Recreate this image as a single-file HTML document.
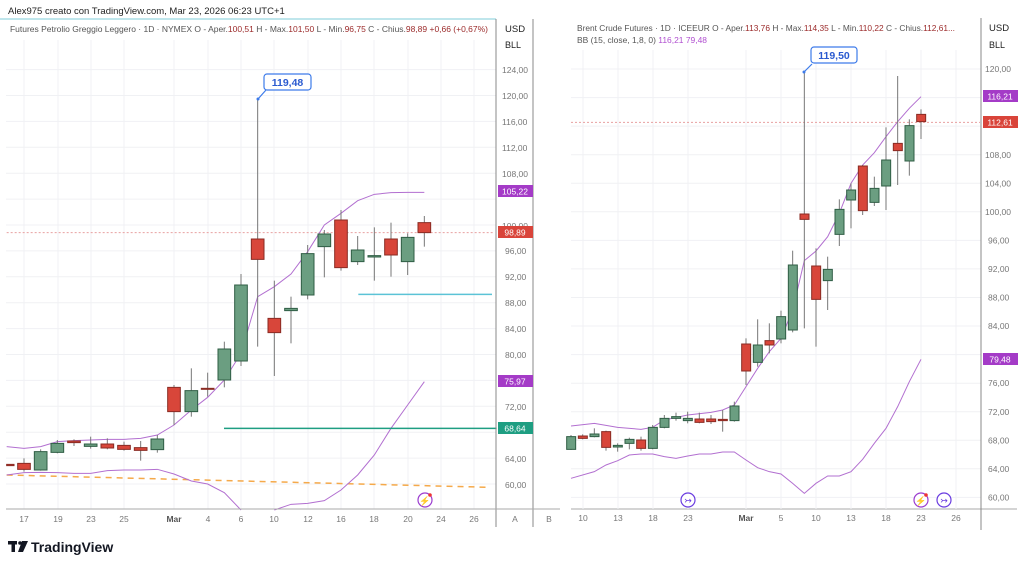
<!DOCTYPE html>
<html><head><meta charset="utf-8"><style>
html,body{margin:0;padding:0;background:#fff;}
svg{display:block;font-family:"Liberation Sans",sans-serif;}
</style></head><body>
<svg width="1024" height="567" viewBox="0 0 1024 567" xmlns="http://www.w3.org/2000/svg">
<rect width="1024" height="567" fill="#fff"/>
<text x="8" y="14" font-size="9.5" fill="#222">Alex975 creato con TradingView.com, Mar 23, 2026 06:23 UTC+1</text>
<line x1="0" y1="19" x2="496" y2="19" stroke="#bfe6ec" stroke-width="2"/>

<!-- LEFT GRID -->
<g stroke="#f0f1f4" stroke-width="1">
<line x1="6" y1="69.6" x2="496" y2="69.6"/><line x1="6" y1="95.5" x2="496" y2="95.5"/><line x1="6" y1="121.4" x2="496" y2="121.4"/><line x1="6" y1="147.3" x2="496" y2="147.3"/><line x1="6" y1="173.2" x2="496" y2="173.2"/><line x1="6" y1="199.1" x2="496" y2="199.1"/><line x1="6" y1="225" x2="496" y2="225"/><line x1="6" y1="250.9" x2="496" y2="250.9"/><line x1="6" y1="276.8" x2="496" y2="276.8"/><line x1="6" y1="302.7" x2="496" y2="302.7"/><line x1="6" y1="328.6" x2="496" y2="328.6"/><line x1="6" y1="354.5" x2="496" y2="354.5"/><line x1="6" y1="380.4" x2="496" y2="380.4"/><line x1="6" y1="406.3" x2="496" y2="406.3"/><line x1="6" y1="432.2" x2="496" y2="432.2"/><line x1="6" y1="458.1" x2="496" y2="458.1"/><line x1="6" y1="484" x2="496" y2="484"/>
<line x1="24" y1="40" x2="24" y2="509"/><line x1="58" y1="40" x2="58" y2="509"/><line x1="91" y1="40" x2="91" y2="509"/><line x1="124" y1="40" x2="124" y2="509"/><line x1="174" y1="40" x2="174" y2="509"/><line x1="208" y1="40" x2="208" y2="509"/><line x1="241" y1="40" x2="241" y2="509"/><line x1="274" y1="40" x2="274" y2="509"/><line x1="308" y1="40" x2="308" y2="509"/><line x1="341" y1="40" x2="341" y2="509"/><line x1="374" y1="40" x2="374" y2="509"/><line x1="408" y1="40" x2="408" y2="509"/><line x1="441" y1="40" x2="441" y2="509"/><line x1="474" y1="40" x2="474" y2="509"/>
</g>
<text x="10" y="32" font-size="8.6" fill="#555" textLength="478" lengthAdjust="spacingAndGlyphs">Futures Petrolio Greggio Leggero · 1D · NYMEX  O - Aper.<tspan fill="#9b2a2a">100,51</tspan>  H - Max.<tspan fill="#9b2a2a">101,50</tspan>  L - Min.<tspan fill="#9b2a2a">96,75</tspan>  C - Chius.<tspan fill="#9b2a2a">98,89</tspan>  <tspan fill="#9b2a2a">+0,66 (+0,67%)</tspan></text>

<!-- left chart lines in zoom coords -->
<g transform="translate(0,180) scale(0.33333)" fill="none">
<line x1="20" y1="158" x2="1480" y2="158" stroke="#e8a0a0" stroke-width="1" stroke-dasharray="2,2" vector-effect="non-scaling-stroke"/>
<line x1="20" y1="885" x2="1470" y2="922" stroke="#f5a94a" stroke-width="1.5" stroke-dasharray="6,5" vector-effect="non-scaling-stroke"/>
<polyline stroke="#b26fd0" stroke-width="1" vector-effect="non-scaling-stroke" points="20,800 72,805 122,800 172,785 222,782 272,780 322,778 372,778 422,775 472,765 522,735 574,690 623,652 673,600 723,520 773,350 823,320 873,282 923,215 973,135 1023,100 1073,62 1123,43 1173,38 1223,37 1273,37"/>
<polyline stroke="#b26fd0" stroke-width="1" vector-effect="non-scaling-stroke" points="20,885 72,878 122,877 172,878 222,880 272,880 322,872 372,870 422,870 472,868 522,882 574,903 623,912 673,938 723,990"/>
<polyline stroke="#b26fd0" stroke-width="1" vector-effect="non-scaling-stroke" points="823,990 873,973 923,970 973,962 1023,930 1073,885 1123,825 1173,745 1223,675 1273,605"/>
<line x1="1075" y1="343" x2="1476" y2="343" stroke="#5bc3d6" stroke-width="1.5" vector-effect="non-scaling-stroke"/>
<line x1="672" y1="745" x2="1490" y2="745" stroke="#1e9e82" stroke-width="1.5" vector-effect="non-scaling-stroke"/>
<g stroke="#777" stroke-width="1">
<line x1="72" y1="835" x2="72" y2="875" vector-effect="non-scaling-stroke"/>
<line x1="122" y1="808" x2="122" y2="872" vector-effect="non-scaling-stroke"/>
<line x1="172" y1="780" x2="172" y2="820" vector-effect="non-scaling-stroke"/>
<line x1="222" y1="778" x2="222" y2="798" vector-effect="non-scaling-stroke"/>
<line x1="272" y1="770" x2="272" y2="806" vector-effect="non-scaling-stroke"/>
<line x1="322" y1="775" x2="322" y2="808" vector-effect="non-scaling-stroke"/>
<line x1="372" y1="785" x2="372" y2="812" vector-effect="non-scaling-stroke"/>
<line x1="422" y1="783" x2="422" y2="842" vector-effect="non-scaling-stroke"/>
<line x1="472" y1="765" x2="472" y2="818" vector-effect="non-scaling-stroke"/>
<line x1="522" y1="615" x2="522" y2="735" vector-effect="non-scaling-stroke"/>
<line x1="574" y1="565" x2="574" y2="710" vector-effect="non-scaling-stroke"/>
<line x1="623" y1="578" x2="623" y2="650" vector-effect="non-scaling-stroke"/>
<line x1="673" y1="485" x2="673" y2="622" vector-effect="non-scaling-stroke"/>
<line x1="723" y1="282" x2="723" y2="558" vector-effect="non-scaling-stroke"/>
<line x1="773" y1="-240" x2="773" y2="500" vector-effect="non-scaling-stroke"/>
<line x1="823" y1="302" x2="823" y2="588" vector-effect="non-scaling-stroke"/>
<line x1="873" y1="350" x2="873" y2="490" vector-effect="non-scaling-stroke"/>
<line x1="923" y1="195" x2="923" y2="358" vector-effect="non-scaling-stroke"/>
<line x1="973" y1="150" x2="973" y2="292" vector-effect="non-scaling-stroke"/>
<line x1="1023" y1="90" x2="1023" y2="272" vector-effect="non-scaling-stroke"/>
<line x1="1073" y1="168" x2="1073" y2="255" vector-effect="non-scaling-stroke"/>
<line x1="1123" y1="142" x2="1123" y2="302" vector-effect="non-scaling-stroke"/>
<line x1="1173" y1="128" x2="1173" y2="290" vector-effect="non-scaling-stroke"/>
<line x1="1223" y1="160" x2="1223" y2="285" vector-effect="non-scaling-stroke"/>
<line x1="1273" y1="108" x2="1273" y2="200" vector-effect="non-scaling-stroke"/>
</g>
<g stroke-width="1">
<rect x="20" y="853" width="22" height="4" fill="#d8463a" stroke="#8a2b23" vector-effect="non-scaling-stroke"/>
<rect x="53" y="850" width="38" height="18" fill="#d8463a" stroke="#8a2b23" vector-effect="non-scaling-stroke"/>
<rect x="103" y="815" width="38" height="55" fill="#6b9e81" stroke="#2f5d44" vector-effect="non-scaling-stroke"/>
<rect x="153" y="790" width="38" height="27" fill="#6b9e81" stroke="#2f5d44" vector-effect="non-scaling-stroke"/>
<rect x="203" y="783" width="38" height="5" fill="#d8463a" stroke="#8a2b23" vector-effect="non-scaling-stroke"/>
<rect x="253" y="792" width="38" height="7" fill="#6b9e81" stroke="#2f5d44" vector-effect="non-scaling-stroke"/>
<rect x="303" y="792" width="38" height="12" fill="#d8463a" stroke="#8a2b23" vector-effect="non-scaling-stroke"/>
<rect x="353" y="796" width="38" height="12" fill="#d8463a" stroke="#8a2b23" vector-effect="non-scaling-stroke"/>
<rect x="403" y="803" width="38" height="8" fill="#d8463a" stroke="#8a2b23" vector-effect="non-scaling-stroke"/>
<rect x="453" y="777" width="38" height="32" fill="#6b9e81" stroke="#2f5d44" vector-effect="non-scaling-stroke"/>
<rect x="503" y="622" width="38" height="73" fill="#d8463a" stroke="#8a2b23" vector-effect="non-scaling-stroke"/>
<rect x="555" y="632" width="38" height="63" fill="#6b9e81" stroke="#2f5d44" vector-effect="non-scaling-stroke"/>
<rect x="604" y="625" width="38" height="3" fill="#b06060" stroke="#8a2b23" vector-effect="non-scaling-stroke"/>
<rect x="654" y="507" width="38" height="93" fill="#6b9e81" stroke="#2f5d44" vector-effect="non-scaling-stroke"/>
<rect x="704" y="315" width="38" height="228" fill="#6b9e81" stroke="#2f5d44" vector-effect="non-scaling-stroke"/>
<rect x="754" y="177" width="38" height="61" fill="#d8463a" stroke="#8a2b23" vector-effect="non-scaling-stroke"/>
<rect x="804" y="415" width="38" height="43" fill="#d8463a" stroke="#8a2b23" vector-effect="non-scaling-stroke"/>
<rect x="854" y="385" width="38" height="7" fill="#6b9e81" stroke="#2f5d44" vector-effect="non-scaling-stroke"/>
<rect x="904" y="221" width="38" height="124" fill="#6b9e81" stroke="#2f5d44" vector-effect="non-scaling-stroke"/>
<rect x="954" y="162" width="38" height="38" fill="#6b9e81" stroke="#2f5d44" vector-effect="non-scaling-stroke"/>
<rect x="1004" y="120" width="38" height="143" fill="#d8463a" stroke="#8a2b23" vector-effect="non-scaling-stroke"/>
<rect x="1054" y="210" width="38" height="35" fill="#6b9e81" stroke="#2f5d44" vector-effect="non-scaling-stroke"/>
<rect x="1104" y="227" width="38" height="4" fill="#6b9e81" stroke="#2f5d44" vector-effect="non-scaling-stroke"/>
<rect x="1154" y="177" width="38" height="48" fill="#d8463a" stroke="#8a2b23" vector-effect="non-scaling-stroke"/>
<rect x="1204" y="172" width="38" height="73" fill="#6b9e81" stroke="#2f5d44" vector-effect="non-scaling-stroke"/>
<rect x="1254" y="128" width="38" height="30" fill="#d8463a" stroke="#8a2b23" vector-effect="non-scaling-stroke"/>
</g>
</g>
<!-- left label -->
<line x1="258" y1="99" x2="266" y2="90" stroke="#3d7bea" stroke-width="1.2"/>
<circle cx="258" cy="99" r="1.5" fill="#3d7bea"/>
<rect x="264" y="74" width="47" height="16" rx="3" fill="#fff" stroke="#3d7bea" stroke-width="1.2"/>
<text x="287.5" y="86" font-size="10.5" font-weight="bold" fill="#2a5ad0" text-anchor="middle">119,48</text>
<circle cx="425" cy="500" r="7" fill="#fff" stroke="#9b3ccf" stroke-width="1.2"/>
<text x="425" y="504" font-size="9" fill="#9b3ccf" text-anchor="middle">⚡</text>
<circle cx="430" cy="495" r="1.8" fill="#e33"/>

<!-- left axes -->
<line x1="496" y1="19" x2="496" y2="527" stroke="#888" stroke-width="1"/>
<line x1="533" y1="19" x2="533" y2="527" stroke="#888" stroke-width="1"/>
<line x1="6" y1="509" x2="496" y2="509" stroke="#aaa" stroke-width="1"/>
<line x1="496" y1="509" x2="560" y2="509" stroke="#aaa" stroke-width="1"/>
<line x1="571" y1="509" x2="1017" y2="509" stroke="#aaa" stroke-width="1"/>
<text x="505" y="32" font-size="9.5" fill="#222">USD</text>
<text x="505" y="48" font-size="9" fill="#222">BLL</text>
<g font-size="8.5" fill="#777">
<text x="502" y="73">124,00</text><text x="502" y="99">120,00</text><text x="502" y="125">116,00</text><text x="502" y="151">112,00</text><text x="502" y="177">108,00</text><text x="502" y="229">100,00</text><text x="505" y="254">96,00</text><text x="505" y="280">92,00</text><text x="505" y="306">88,00</text><text x="505" y="332">84,00</text><text x="505" y="358">80,00</text><text x="505" y="410">72,00</text><text x="505" y="462">64,00</text><text x="505" y="488">60,00</text>
</g>
<rect x="498" y="185" width="35" height="12" fill="#a43bc7"/><text x="515" y="194.5" font-size="8.5" fill="#fff" text-anchor="middle">105,22</text>
<rect x="498" y="226" width="35" height="12" fill="#d9443a"/><text x="515" y="235.5" font-size="8.5" fill="#fff" text-anchor="middle">98,89</text>
<rect x="498" y="375" width="35" height="12" fill="#a43bc7"/><text x="515" y="384.5" font-size="8.5" fill="#fff" text-anchor="middle">75,97</text>
<rect x="498" y="422" width="35" height="12" fill="#1e9e82"/><text x="515" y="431.5" font-size="8.5" fill="#fff" text-anchor="middle">68,64</text>
<g font-size="8.5" fill="#777" text-anchor="middle">
<text x="24" y="522">17</text><text x="58" y="522">19</text><text x="91" y="522">23</text><text x="124" y="522">25</text><text x="174" y="522" fill="#555" font-weight="bold">Mar</text><text x="208" y="522">4</text><text x="241" y="522">6</text><text x="274" y="522">10</text><text x="308" y="522">12</text><text x="341" y="522">16</text><text x="374" y="522">18</text><text x="408" y="522">20</text><text x="441" y="522">24</text><text x="474" y="522">26</text><text x="515" y="522">A</text><text x="549" y="522">B</text>
</g>

<!-- RIGHT GRID -->
<g stroke="#f0f1f4" stroke-width="1">
<line x1="571" y1="69" x2="981" y2="69"/><line x1="571" y1="97.6" x2="981" y2="97.6"/><line x1="571" y1="126.1" x2="981" y2="126.1"/><line x1="571" y1="154.7" x2="981" y2="154.7"/><line x1="571" y1="183.2" x2="981" y2="183.2"/><line x1="571" y1="211.8" x2="981" y2="211.8"/><line x1="571" y1="240.4" x2="981" y2="240.4"/><line x1="571" y1="268.9" x2="981" y2="268.9"/><line x1="571" y1="297.5" x2="981" y2="297.5"/><line x1="571" y1="326" x2="981" y2="326"/><line x1="571" y1="354.6" x2="981" y2="354.6"/><line x1="571" y1="383.2" x2="981" y2="383.2"/><line x1="571" y1="411.7" x2="981" y2="411.7"/><line x1="571" y1="440.3" x2="981" y2="440.3"/><line x1="571" y1="468.8" x2="981" y2="468.8"/><line x1="571" y1="497.4" x2="981" y2="497.4"/>
<line x1="583" y1="50" x2="583" y2="509"/><line x1="618" y1="50" x2="618" y2="509"/><line x1="653" y1="50" x2="653" y2="509"/><line x1="688" y1="50" x2="688" y2="509"/><line x1="746" y1="50" x2="746" y2="509"/><line x1="781" y1="50" x2="781" y2="509"/><line x1="816" y1="50" x2="816" y2="509"/><line x1="851" y1="50" x2="851" y2="509"/><line x1="886" y1="50" x2="886" y2="509"/><line x1="921" y1="50" x2="921" y2="509"/><line x1="956" y1="50" x2="956" y2="509"/>
</g>
<text x="577" y="31" font-size="8.6" fill="#555" textLength="378" lengthAdjust="spacingAndGlyphs">Brent Crude Futures · 1D · ICEEUR  O - Aper.<tspan fill="#9b2a2a">113,76</tspan>  H - Max.<tspan fill="#9b2a2a">114,35</tspan>  L - Min.<tspan fill="#9b2a2a">110,22</tspan>  C - Chius.<tspan fill="#9b2a2a">112,61...</tspan></text>
<text x="577" y="43" font-size="8.6" fill="#555" textLength="130" lengthAdjust="spacingAndGlyphs">BB (15, close, 1,8, 0)  <tspan fill="#b04fd0">116,21  79,48</tspan></text>

<g transform="translate(560,40) scale(0.33333)" fill="none">
<line x1="33" y1="247" x2="1260" y2="247" stroke="#e8a0a0" stroke-width="1" stroke-dasharray="2,2" vector-effect="non-scaling-stroke"/>
<polyline stroke="#b26fd0" stroke-width="1" vector-effect="non-scaling-stroke" points="33,1158 103,1150 173,1162 243,1168 278,1162 313,1140 383,1125 453,1117 488,1110 523,1095 558,1040 593,985 628,935 663,895 698,810 733,662 768,633 803,590 838,520 873,430 908,375 943,338 978,290 1013,245 1048,205 1083,170"/>
<polyline stroke="#b26fd0" stroke-width="1" vector-effect="non-scaling-stroke" points="33,1315 103,1295 138,1275 173,1262 208,1245 243,1242 278,1242 313,1250 348,1255 383,1248 418,1242 453,1242 488,1236 523,1236 558,1260 593,1283 628,1295 663,1302 698,1330 733,1360 768,1330 803,1308 838,1308 873,1295 908,1258 943,1210 978,1165 1013,1100 1048,1025 1083,958"/>
<g stroke="#777" stroke-width="1">
<line x1="33" y1="1185" x2="33" y2="1230" vector-effect="non-scaling-stroke"/>
<line x1="68" y1="1183" x2="68" y2="1198" vector-effect="non-scaling-stroke"/>
<line x1="103" y1="1165" x2="103" y2="1192" vector-effect="non-scaling-stroke"/>
<line x1="138" y1="1172" x2="138" y2="1232" vector-effect="non-scaling-stroke"/>
<line x1="173" y1="1210" x2="173" y2="1235" vector-effect="non-scaling-stroke"/>
<line x1="208" y1="1193" x2="208" y2="1228" vector-effect="non-scaling-stroke"/>
<line x1="243" y1="1190" x2="243" y2="1232" vector-effect="non-scaling-stroke"/>
<line x1="278" y1="1155" x2="278" y2="1228" vector-effect="non-scaling-stroke"/>
<line x1="313" y1="1125" x2="313" y2="1165" vector-effect="non-scaling-stroke"/>
<line x1="348" y1="1118" x2="348" y2="1142" vector-effect="non-scaling-stroke"/>
<line x1="383" y1="1115" x2="383" y2="1150" vector-effect="non-scaling-stroke"/>
<line x1="418" y1="1118" x2="418" y2="1150" vector-effect="non-scaling-stroke"/>
<line x1="453" y1="1125" x2="453" y2="1152" vector-effect="non-scaling-stroke"/>
<line x1="488" y1="1110" x2="488" y2="1175" vector-effect="non-scaling-stroke"/>
<line x1="523" y1="1085" x2="523" y2="1145" vector-effect="non-scaling-stroke"/>
<line x1="558" y1="895" x2="558" y2="1035" vector-effect="non-scaling-stroke"/>
<line x1="593" y1="838" x2="593" y2="980" vector-effect="non-scaling-stroke"/>
<line x1="628" y1="850" x2="628" y2="940" vector-effect="non-scaling-stroke"/>
<line x1="663" y1="812" x2="663" y2="910" vector-effect="non-scaling-stroke"/>
<line x1="698" y1="632" x2="698" y2="877" vector-effect="non-scaling-stroke"/>
<line x1="733" y1="97" x2="733" y2="865" vector-effect="non-scaling-stroke"/>
<line x1="768" y1="625" x2="768" y2="920" vector-effect="non-scaling-stroke"/>
<line x1="803" y1="650" x2="803" y2="810" vector-effect="non-scaling-stroke"/>
<line x1="838" y1="478" x2="838" y2="618" vector-effect="non-scaling-stroke"/>
<line x1="873" y1="430" x2="873" y2="565" vector-effect="non-scaling-stroke"/>
<line x1="908" y1="375" x2="908" y2="525" vector-effect="non-scaling-stroke"/>
<line x1="943" y1="410" x2="943" y2="498" vector-effect="non-scaling-stroke"/>
<line x1="978" y1="262" x2="978" y2="510" vector-effect="non-scaling-stroke"/>
<line x1="1013" y1="108" x2="1013" y2="435" vector-effect="non-scaling-stroke"/>
<line x1="1048" y1="238" x2="1048" y2="407" vector-effect="non-scaling-stroke"/>
<line x1="1083" y1="208" x2="1083" y2="297" vector-effect="non-scaling-stroke"/>
</g>
<g stroke-width="1">
<rect x="20" y="1190" width="27" height="38" fill="#6b9e81" stroke="#2f5d44" vector-effect="non-scaling-stroke"/>
<rect x="55" y="1188" width="27" height="7" fill="#d8463a" stroke="#8a2b23" vector-effect="non-scaling-stroke"/>
<rect x="90" y="1182" width="27" height="8" fill="#6b9e81" stroke="#2f5d44" vector-effect="non-scaling-stroke"/>
<rect x="125" y="1175" width="27" height="47" fill="#d8463a" stroke="#8a2b23" vector-effect="non-scaling-stroke"/>
<rect x="160" y="1216" width="27" height="5" fill="#6b9e81" stroke="#2f5d44" vector-effect="non-scaling-stroke"/>
<rect x="195" y="1198" width="27" height="12" fill="#6b9e81" stroke="#2f5d44" vector-effect="non-scaling-stroke"/>
<rect x="230" y="1200" width="27" height="25" fill="#d8463a" stroke="#8a2b23" vector-effect="non-scaling-stroke"/>
<rect x="265" y="1162" width="27" height="63" fill="#6b9e81" stroke="#2f5d44" vector-effect="non-scaling-stroke"/>
<rect x="300" y="1135" width="27" height="27" fill="#6b9e81" stroke="#2f5d44" vector-effect="non-scaling-stroke"/>
<rect x="335" y="1130" width="27" height="5" fill="#6b9e81" stroke="#2f5d44" vector-effect="non-scaling-stroke"/>
<rect x="370" y="1135" width="27" height="7" fill="#6b9e81" stroke="#2f5d44" vector-effect="non-scaling-stroke"/>
<rect x="405" y="1137" width="27" height="10" fill="#d8463a" stroke="#8a2b23" vector-effect="non-scaling-stroke"/>
<rect x="440" y="1137" width="27" height="8" fill="#d8463a" stroke="#8a2b23" vector-effect="non-scaling-stroke"/>
<rect x="475" y="1138" width="27" height="4" fill="#d8463a" stroke="#8a2b23" vector-effect="non-scaling-stroke"/>
<rect x="510" y="1098" width="27" height="44" fill="#6b9e81" stroke="#2f5d44" vector-effect="non-scaling-stroke"/>
<rect x="545" y="912" width="27" height="81" fill="#d8463a" stroke="#8a2b23" vector-effect="non-scaling-stroke"/>
<rect x="580" y="915" width="27" height="52" fill="#6b9e81" stroke="#2f5d44" vector-effect="non-scaling-stroke"/>
<rect x="615" y="902" width="27" height="13" fill="#d8463a" stroke="#8a2b23" vector-effect="non-scaling-stroke"/>
<rect x="650" y="830" width="27" height="67" fill="#6b9e81" stroke="#2f5d44" vector-effect="non-scaling-stroke"/>
<rect x="685" y="675" width="27" height="195" fill="#6b9e81" stroke="#2f5d44" vector-effect="non-scaling-stroke"/>
<rect x="720" y="522" width="27" height="16" fill="#d8463a" stroke="#8a2b23" vector-effect="non-scaling-stroke"/>
<rect x="755" y="678" width="27" height="100" fill="#d8463a" stroke="#8a2b23" vector-effect="non-scaling-stroke"/>
<rect x="790" y="688" width="27" height="34" fill="#6b9e81" stroke="#2f5d44" vector-effect="non-scaling-stroke"/>
<rect x="825" y="508" width="27" height="75" fill="#6b9e81" stroke="#2f5d44" vector-effect="non-scaling-stroke"/>
<rect x="860" y="450" width="27" height="30" fill="#6b9e81" stroke="#2f5d44" vector-effect="non-scaling-stroke"/>
<rect x="895" y="378" width="27" height="134" fill="#d8463a" stroke="#8a2b23" vector-effect="non-scaling-stroke"/>
<rect x="930" y="445" width="27" height="42" fill="#6b9e81" stroke="#2f5d44" vector-effect="non-scaling-stroke"/>
<rect x="965" y="360" width="27" height="78" fill="#6b9e81" stroke="#2f5d44" vector-effect="non-scaling-stroke"/>
<rect x="1000" y="310" width="27" height="22" fill="#d8463a" stroke="#8a2b23" vector-effect="non-scaling-stroke"/>
<rect x="1035" y="257" width="27" height="106" fill="#6b9e81" stroke="#2f5d44" vector-effect="non-scaling-stroke"/>
<rect x="1070" y="223" width="27" height="22" fill="#d8463a" stroke="#8a2b23" vector-effect="non-scaling-stroke"/>
</g>
</g>
<line x1="804" y1="72" x2="812" y2="64" stroke="#3d7bea" stroke-width="1.2"/>
<circle cx="804" cy="72" r="1.5" fill="#3d7bea"/>
<rect x="811" y="47" width="46" height="16" rx="3" fill="#fff" stroke="#3d7bea" stroke-width="1.2"/>
<text x="834" y="59" font-size="10.5" font-weight="bold" fill="#2a5ad0" text-anchor="middle">119,50</text>
<circle cx="688" cy="500" r="7" fill="#fff" stroke="#6a3ce0" stroke-width="1.2"/>
<text x="688" y="503.5" font-size="9" fill="#6a3ce0" text-anchor="middle">↣</text>
<circle cx="921" cy="500" r="7" fill="#fff" stroke="#9b3ccf" stroke-width="1.2"/>
<text x="921" y="504" font-size="9" fill="#9b3ccf" text-anchor="middle">⚡</text>
<circle cx="926" cy="495" r="1.8" fill="#e33"/>
<circle cx="944" cy="500" r="7" fill="#fff" stroke="#6a3ce0" stroke-width="1.2"/>
<text x="944" y="503.5" font-size="9" fill="#6a3ce0" text-anchor="middle">↣</text>

<line x1="981" y1="18" x2="981" y2="530" stroke="#888" stroke-width="1"/>
<text x="989" y="31" font-size="9.5" fill="#222">USD</text>
<text x="989" y="48" font-size="9" fill="#222">BLL</text>
<g font-size="8.5" fill="#777">
<text x="985" y="72">120,00</text><text x="985" y="158">108,00</text><text x="985" y="186.5">104,00</text><text x="985" y="215">100,00</text><text x="988" y="243.5">96,00</text><text x="988" y="272">92,00</text><text x="988" y="300.5">88,00</text><text x="988" y="329">84,00</text><text x="988" y="386">76,00</text><text x="988" y="415">72,00</text><text x="988" y="443.5">68,00</text><text x="988" y="472">64,00</text><text x="988" y="500.5">60,00</text>
</g>
<rect x="983" y="90" width="35" height="12" fill="#a43bc7"/><text x="1000" y="99.5" font-size="8.5" fill="#fff" text-anchor="middle">116,21</text>
<rect x="983" y="116" width="35" height="12" fill="#d9443a"/><text x="1000" y="125.5" font-size="8.5" fill="#fff" text-anchor="middle">112,61</text>
<rect x="983" y="353" width="35" height="12" fill="#a43bc7"/><text x="1000" y="362.5" font-size="8.5" fill="#fff" text-anchor="middle">79,48</text>
<g font-size="8.5" fill="#777" text-anchor="middle">
<text x="583" y="521">10</text><text x="618" y="521">13</text><text x="653" y="521">18</text><text x="688" y="521">23</text><text x="746" y="521" fill="#555" font-weight="bold">Mar</text><text x="781" y="521">5</text><text x="816" y="521">10</text><text x="851" y="521">13</text><text x="886" y="521">18</text><text x="921" y="521">23</text><text x="956" y="521">26</text>
</g>

<!-- footer logo -->
<g fill="#131722">
<rect x="8" y="541" width="9" height="3.5"/><rect x="11.5" y="541" width="3.5" height="11"/>
<circle cx="20" cy="543" r="1.8"/>
<polygon points="22,541 28,541 23,552 18,552"/>
</g>
<text x="31" y="552" font-size="14" font-weight="bold" fill="#131722">TradingView</text>
</svg>
</body></html>
